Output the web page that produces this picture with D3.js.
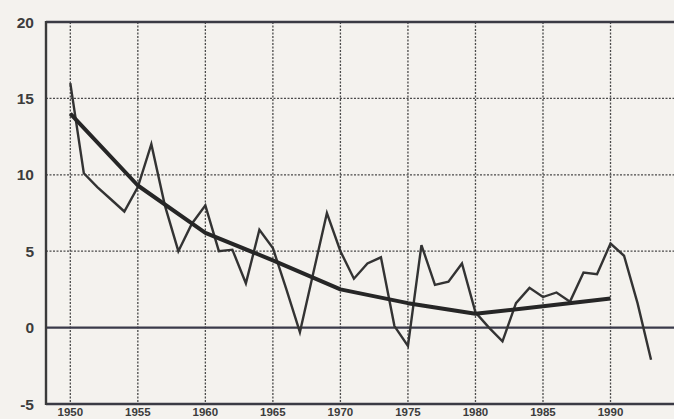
<!DOCTYPE html>
<html>
<head>
<meta charset="utf-8">
<script src="https://cdn.jsdelivr.net/npm/d3@7"></script>
<style>
  html, body { margin: 0; padding: 0; background: #f4f2ee; }
  svg { display: block; }
  text { font-family: "Liberation Sans", Arial, Helvetica, sans-serif; font-weight: bold; fill: #3c3c3c; }
</style>
</head>
<body>
<svg id="chart" width="674" height="419"></svg>
<script>
// ---- data ----
const years = [1950,1951,1952,1953,1954,1955,1956,1957,1958,1959,
               1960,1961,1962,1963,1964,1965,1966,1967,1968,1969,
               1970,1971,1972,1973,1974,1975,1976,1977,1978,1979,
               1980,1981,1982,1983,1984,1985,1986,1987,1988,1989,
               1990,1991,1992,1993];
const annualValues = [16.0,10.1,9.2,8.4,7.6,9.2,12.0,8.0,5.0,6.8,
                      8.0,5.0,5.1,2.9,6.4,5.2,2.5,-0.3,3.6,7.5,
                      5.0,3.2,4.2,4.6,0.1,-1.2,5.4,2.8,3.0,4.2,
                      1.0,0.0,-0.9,1.6,2.6,2.0,2.3,1.7,3.6,3.5,
                      5.5,4.7,1.6,-2.1];
const trendYears = [1950,1955,1960,1965,1970,1975,1980,1985,1990];
const trendValues = [14.0,9.3,6.2,4.4,2.5,1.6,0.9,1.4,1.9];
const yTicks = [20,15,10,5,0,-5];
const xTicks = [1950,1955,1960,1965,1970,1975,1980,1985,1990];

// ---- layout ----
const svg = d3.select("#chart");
const x = d3.scaleLinear().domain([1948.2, 1994.7]).range([46, 674]);
const y = d3.scaleLinear().domain([-5, 20]).range([404, 22]);
const ink = "#333333";

// horizontal grid (dotted) for interior ticks
svg.append("g").selectAll("line")
  .data(yTicks.filter(v => v !== 20 && v !== -5 && v !== 0))
  .join("line")
  .attr("x1", x.range()[0]).attr("x2", x.range()[1])
  .attr("y1", d => y(d)).attr("y2", d => y(d))
  .attr("stroke", "#4a4a4a").attr("stroke-width", 1.3)
  .attr("stroke-dasharray", "2,1.5");

// vertical grid (dotted)
svg.append("g").selectAll("line")
  .data(xTicks)
  .join("line")
  .attr("x1", d => x(d)).attr("x2", d => x(d))
  .attr("y1", y(20)).attr("y2", y(-5))
  .attr("stroke", "#4a4a4a").attr("stroke-width", 1.3)
  .attr("stroke-dasharray", "2,1.5");

// zero line
svg.append("line")
  .attr("x1", x.range()[0]).attr("x2", x.range()[1])
  .attr("y1", y(0)).attr("y2", y(0))
  .attr("stroke", "#3a3a4a").attr("stroke-width", 2.4);

// frame: top, left, bottom
svg.append("line")
  .attr("x1", x.range()[0]).attr("x2", x.range()[1])
  .attr("y1", y(20)).attr("y2", y(20))
  .attr("stroke", "#3a3a44").attr("stroke-width", 2.4);
svg.append("line")
  .attr("x1", x.range()[0]).attr("x2", x.range()[1])
  .attr("y1", y(-5)).attr("y2", y(-5))
  .attr("stroke", "#3a3a44").attr("stroke-width", 2.4);
svg.append("line")
  .attr("x1", x.range()[0]).attr("x2", x.range()[0])
  .attr("y1", y(20) - 1).attr("y2", y(-5) + 1)
  .attr("stroke", "#3a3a3a").attr("stroke-width", 2.4);

// y tick labels
svg.append("g").selectAll("text")
  .data(yTicks)
  .join("text")
  .attr("x", 34).attr("y", d => y(d))
  .attr("dy", "0.36em")
  .attr("text-anchor", "end")
  .attr("font-size", 15.5)
  .text(d => d);

// x tick labels (at the very bottom edge, as in the scan)
svg.append("g").selectAll("text")
  .data(xTicks)
  .join("text")
  .attr("x", d => x(d)).attr("y", 416)
  .attr("text-anchor", "middle")
  .attr("font-size", 11.5)
  .text(d => d);

// annual series (thin)
const line = d3.line().x(d => x(d[0])).y(d => y(d[1]));
svg.append("path")
  .datum(years.map((yr, i) => [yr, annualValues[i]]))
  .attr("d", line)
  .attr("fill", "none")
  .attr("stroke", ink).attr("stroke-width", 2.4)
  .attr("stroke-linejoin", "miter");

// trend (thick)
svg.append("path")
  .datum(trendYears.map((yr, i) => [yr, trendValues[i]]))
  .attr("d", line)
  .attr("fill", "none")
  .attr("stroke", "#262626").attr("stroke-width", 4)
  .attr("stroke-linejoin", "round");
</script>
</body>
</html>
